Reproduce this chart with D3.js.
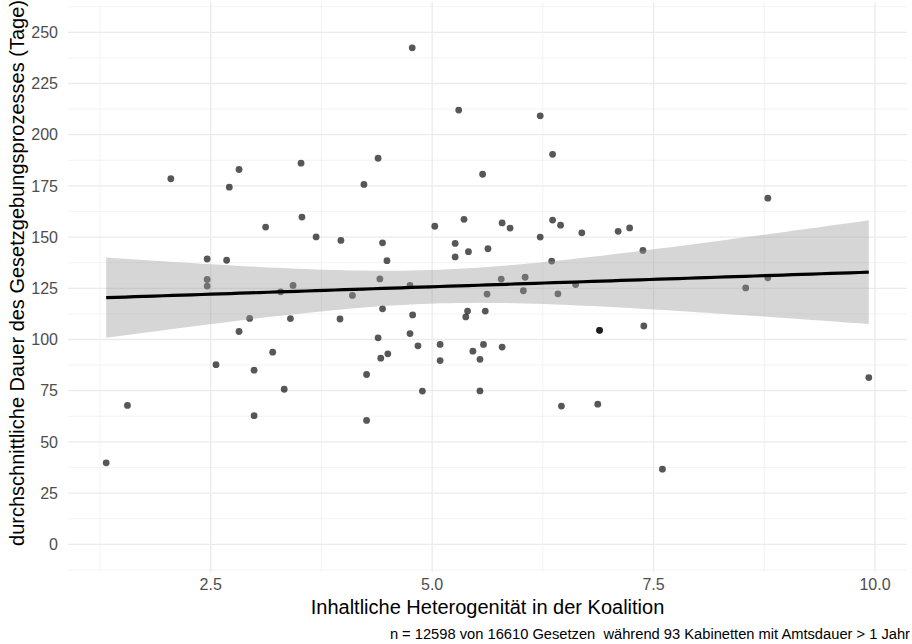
<!DOCTYPE html>
<html>
<head>
<meta charset="utf-8">
<script src="https://cdn.jsdelivr.net/npm/d3@7"></script>
<style>
  body { margin: 0; background: #fff; }
  text { font-family: "Liberation Sans", Arial, sans-serif; }
</style>
</head>
<body>
<svg id="chart" width="912" height="644"></svg>
<script>
// heterogeneity (x) and mean duration in days (y), one entry per cabinet
var heterogen = [1.32, 1.56, 2.05, 2.46, 2.46, 2.46, 2.56, 2.68, 2.71, 2.82, 2.82, 2.94, 2.99, 2.99,
  3.12, 3.20, 3.29, 3.33, 3.40, 3.43, 3.52, 3.53, 3.69, 3.97, 3.96, 4.10, 4.23, 4.26, 4.26,
  4.39, 4.39, 4.41, 4.42, 4.44, 4.44, 4.49, 4.50, 4.75, 4.75, 4.775, 4.78, 4.84, 4.89,
  5.03, 5.09, 5.09, 5.26, 5.26, 5.30, 5.36, 5.38, 5.40, 5.41, 5.46, 5.54, 5.54, 5.57,
  5.58, 5.60, 5.62, 5.63, 5.78, 5.79, 5.79, 5.88, 6.03, 6.05, 6.22, 6.22, 6.35, 6.36,
  6.36, 6.42, 6.45, 6.46, 6.62, 6.69, 6.87, 6.89, 6.89, 7.10, 7.23, 7.38, 7.39, 7.60,
  8.54, 8.79, 8.79, 9.93];
var dauer = [39.8, 67.8, 178.5, 139.3, 129.3, 126.1, 87.7, 138.7, 174.4, 183, 103.9, 110.3, 85, 62.8,
  154.9, 93.8, 123.3, 75.7, 110.2, 126.4, 186.1, 159.8, 150.1, 148.4, 110.0, 121.5, 175.7, 82.9, 60.5,
  188.5, 100.8, 129.6, 90.9, 147.2, 115, 138.5, 93.0, 126.4, 102.9, 242.4, 112, 96.9, 74.8,
  155.3, 97.6, 89.7, 146.9, 140.3, 212, 158.7, 111, 113.9, 142.9, 94.3, 90.3, 74.9, 180.7,
  97.6, 113.9, 122.2, 144.3, 129.5, 156.9, 96.3, 154.4, 123.8, 130.4, 209.2, 150, 138.3, 190.4,
  158.3, 122.3, 155.8, 67.5, 126.8, 152.1, 68.4, 104.5, 104.5, 152.8, 154.5, 143.5, 106.6, 36.7,
  125.2, 130.1, 169, 81.4];

var xTicks = [2.5, 5.0, 7.5, 10.0];
var xMinor = [1.25, 3.75, 6.25, 8.75];
var yTicks = [0, 25, 50, 75, 100, 125, 150, 175, 200, 225, 250];
var yMinor = [-12.5, 12.5, 37.5, 62.5, 87.5, 112.5, 137.5, 162.5, 187.5, 212.5, 237.5, 262.5];

var xTitle = "Inhaltliche Heterogenität in der Koalition";
var yTitle = "durchschnittliche Dauer des Gesetzgebungsprozesses (Tage)";
var caption = "n = 12598 von 16610 Gesetzen  während 93 Kabinetten mit Amtsdauer > 1 Jahr";

var svg = d3.select("#chart");
var panel = {left: 68, right: 907, top: 2, bottom: 572};

var x = d3.scaleLinear().domain([2.5, 10]).range([210.7, 875]);
var y = d3.scaleLinear().domain([0, 250]).range([544.3, 32.3]);

// grid
var grid = svg.append("g");
grid.selectAll(".ymin").data(yMinor).enter().append("line")
  .attr("x1", panel.left).attr("x2", panel.right)
  .attr("y1", d => y(d)).attr("y2", d => y(d))
  .attr("stroke", "#f0f0f0").attr("stroke-width", 0.8);
grid.selectAll(".xmin").data(xMinor).enter().append("line")
  .attr("y1", panel.top).attr("y2", panel.bottom)
  .attr("x1", d => x(d)).attr("x2", d => x(d))
  .attr("stroke", "#f0f0f0").attr("stroke-width", 0.8);
grid.selectAll(".ymaj").data(yTicks).enter().append("line")
  .attr("x1", panel.left).attr("x2", panel.right)
  .attr("y1", d => y(d)).attr("y2", d => y(d))
  .attr("stroke", "#ebebeb").attr("stroke-width", 1.3);
grid.selectAll(".xmaj").data(xTicks).enter().append("line")
  .attr("y1", panel.top).attr("y2", panel.bottom)
  .attr("x1", d => x(d)).attr("x2", d => x(d))
  .attr("stroke", "#ebebeb").attr("stroke-width", 1.3);

// points
var pts = heterogen.map((v, i) => [v, dauer[i]]);
svg.append("g").selectAll("circle").data(pts).enter().append("circle")
  .attr("cx", d => x(d[0])).attr("cy", d => y(d[1]))
  .attr("r", 3.4)
  .attr("fill", "#000").attr("fill-opacity", 0.66);

// linear fit with 95% band, like geom_smooth(method = "lm")
var n = pts.length;
var mx = d3.mean(heterogen), my = d3.mean(dauer);
var sxx = d3.sum(heterogen, v => (v - mx) * (v - mx));
var sxy = d3.sum(pts, d => (d[0] - mx) * (d[1] - my));
var b = sxy / sxx, a = my - b * mx;
var s = Math.sqrt(d3.sum(pts, d => Math.pow(d[1] - a - b * d[0], 2)) / (n - 2));
var tq = 1.987;
var xs = d3.range(0, 81).map(i => d3.min(heterogen) + i * (d3.max(heterogen) - d3.min(heterogen)) / 80);
var fit = xs.map(v => {
  var se = s * Math.sqrt(1 / n + (v - mx) * (v - mx) / sxx);
  var f = a + b * v;
  return {x: v, f: f, lo: f - tq * se, hi: f + tq * se};
});

svg.append("path").datum(fit)
  .attr("fill", "#999999").attr("fill-opacity", 0.4)
  .attr("d", d3.area().x(d => x(d.x)).y0(d => y(d.lo)).y1(d => y(d.hi)));
svg.append("path").datum(fit)
  .attr("fill", "none").attr("stroke", "#000").attr("stroke-width", 3.2)
  .attr("d", d3.line().x(d => x(d.x)).y(d => y(d.f)));

// axis labels
svg.append("g").selectAll("text").data(xTicks).enter().append("text")
  .attr("x", d => x(d)).attr("y", 590)
  .attr("text-anchor", "middle").attr("font-size", 16).attr("fill", "#4d4d4d")
  .text(d => d3.format(".1f")(d));
svg.append("g").selectAll("text").data(yTicks).enter().append("text")
  .attr("x", 58).attr("y", d => y(d) + 5.7)
  .attr("text-anchor", "end").attr("font-size", 16).attr("fill", "#4d4d4d")
  .text(d => d);

svg.append("text").attr("x", 487.5).attr("y", 614)
  .attr("text-anchor", "middle").attr("font-size", 20).attr("fill", "#000")
  .text(xTitle);
svg.append("text")
  .attr("transform", "translate(24,273) rotate(-90)")
  .attr("text-anchor", "middle").attr("font-size", 20).attr("fill", "#000")
  .text(yTitle);
svg.append("text").attr("x", 910).attr("y", 639)
  .attr("text-anchor", "end").attr("font-size", 14.7).attr("fill", "#000")
  .style("white-space", "pre")
  .text(caption);
</script>
</body>
</html>
